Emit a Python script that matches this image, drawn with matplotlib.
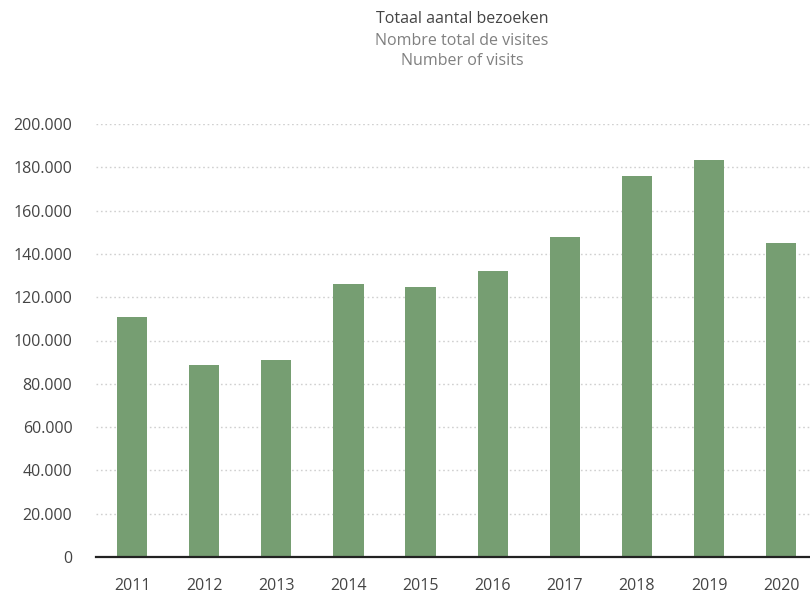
import matplotlib
matplotlib.use("Agg")
import matplotlib.pyplot as plt
from matplotlib.ticker import FuncFormatter

years = ["2011", "2012", "2013", "2014", "2015", "2016", "2017", "2018", "2019", "2020"]
visits = [111000, 88700, 91000, 126100, 124700, 132100, 147800, 176000, 183400, 145000]
title_lines = ["Totaal aantal bezoeken", "Nombre total de visites", "Number of visits"]

plt.rcParams['font.family'] = ['Open Sans', 'DejaVu Sans']

fig = plt.figure(figsize=(8.10, 5.95), dpi=100)
W, H = 810, 595
ax = fig.add_axes([96 / W, (H - 557) / H, (810 - 96) / W, (557 - 124) / H])

x = list(range(len(years)))
ax.bar(x, visits, width=0.42, color="#769E72", zorder=2)

ax.set_ylim(0, 200000)
ax.set_xlim(-0.5, 9.40)
ax.set_yticks(range(0, 200001, 20000))
ax.yaxis.set_major_formatter(FuncFormatter(lambda v, p: f"{int(v):,}".replace(",", ".")))
ax.set_xticks(x)
ax.set_xticklabels(years)

ax.grid(axis="y", color="#d0d0d0", linestyle=(0, (1.2, 2)), linewidth=1, zorder=0)
ax.set_axisbelow(True)
for s in ["top", "right", "left"]:
    ax.spines[s].set_visible(False)
ax.spines["bottom"].set_color("#222222")
ax.spines["bottom"].set_linewidth(1.6)
ax.spines["bottom"].set_zorder(3)
ax.tick_params(axis="both", length=0, labelsize=11.5, colors="#444444")
ax.tick_params(axis="y", pad=26)
ax.tick_params(axis="x", pad=15)
for lbl in ax.get_yticklabels():
    pass
ax.tick_params(axis="y", pad=17)

colors = ["#444444", "#808080", "#808080"]
ys = [19, 41, 61]
for t, c, yy in zip(title_lines, colors, ys):
    fig.text(462 / W, 1 - yy / H, t, ha="center", va="center", fontsize=11.5, color=c)

fig.savefig("out.png", dpi=100)
